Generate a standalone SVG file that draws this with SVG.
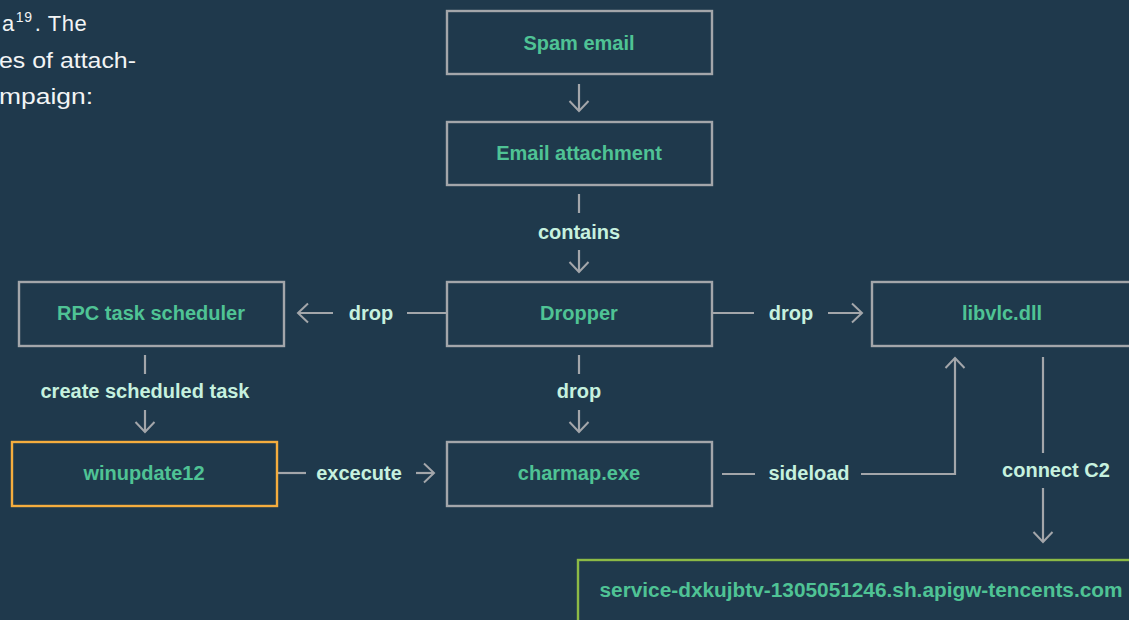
<svg xmlns="http://www.w3.org/2000/svg" width="1129" height="620" viewBox="0 0 1129 620">
  <defs>
    <marker id="arr" markerUnits="userSpaceOnUse" markerWidth="24" markerHeight="24" viewBox="-12 -12 24 24" refX="0" refY="0" orient="auto">
      <path d="M-10,-9.5 L0,0 L-10,9.5" fill="none" stroke="#a3a6aa" stroke-width="2"/>
    </marker>
  </defs>
  <style>
    .box { fill: none; stroke: #a3a6aa; stroke-width: 2.4; }
    .node { font-family: "Liberation Sans", Arial, sans-serif; font-weight: 700; font-size: 20px; fill: #4fc395; text-anchor: middle; dominant-baseline: central; }
    .lbl { font-family: "Liberation Sans", Arial, sans-serif; font-weight: 700; font-size: 20px; fill: #c6f1df; text-anchor: middle; dominant-baseline: central; }
    .ln { fill: none; stroke: #a3a6aa; stroke-width: 2.2; }
    .arr { marker-end: url(#arr); }
    .body { font-family: "Liberation Sans", Arial, sans-serif; font-size: 22px; fill: #f2f4f5; }
  </style>
  <rect width="1129" height="620" fill="#1f394c"/>

  <g id="intro-text">
    <text class="body" x="2" y="31" letter-spacing="0.6">a<tspan font-size="14" dy="-9" dx="1">19</tspan><tspan dy="9" dx="2">. The</tspan></text>
    <text class="body" x="-1" y="68" textLength="137" lengthAdjust="spacingAndGlyphs">es of attach-</text>
    <text class="body" x="-1" y="104" textLength="94" lengthAdjust="spacingAndGlyphs">mpaign:</text>
  </g>

  <g id="connectors">
    <line class="ln arr" x1="579" y1="84" x2="579" y2="111"/>
    <line class="ln" x1="579" y1="194" x2="579" y2="213"/>
    <text class="lbl" x="579" y="232">contains</text>
    <line class="ln arr" x1="579" y1="250" x2="579" y2="272"/>

    <line class="ln" x1="407" y1="313" x2="447" y2="313"/>
    <text class="lbl" x="371" y="313">drop</text>
    <line class="ln arr" x1="333" y1="313" x2="298" y2="313"/>

    <line class="ln" x1="712" y1="313" x2="754" y2="313"/>
    <text class="lbl" x="791" y="313">drop</text>
    <line class="ln arr" x1="828" y1="313" x2="862" y2="313"/>

    <line class="ln" x1="579" y1="355" x2="579" y2="374"/>
    <text class="lbl" x="579" y="391">drop</text>
    <line class="ln arr" x1="579" y1="410" x2="579" y2="432"/>

    <line class="ln" x1="145" y1="355" x2="145" y2="374"/>
    <text class="lbl" x="145" y="391">create scheduled task</text>
    <line class="ln arr" x1="145" y1="410" x2="145" y2="432"/>

    <line class="ln" x1="277" y1="473" x2="306" y2="473"/>
    <text class="lbl" x="359" y="473">excecute</text>
    <line class="ln arr" x1="416" y1="473" x2="434" y2="473"/>

    <line class="ln" x1="722" y1="474" x2="755" y2="474"/>
    <text class="lbl" x="809" y="473">sideload</text>
    <polyline class="ln arr" points="861,474 955,474 955,358"/>

    <line class="ln" x1="1043" y1="357" x2="1043" y2="453"/>
    <text class="lbl" x="1056" y="470">connect C2</text>
    <line class="ln arr" x1="1043" y1="488" x2="1043" y2="542"/>
  </g>

  <g id="spam-email">
    <rect class="box" x="447" y="11" width="265" height="63"/>
    <text class="node" x="579" y="43">Spam email</text>
  </g>
  <g id="email-attachment">
    <rect class="box" x="447" y="122" width="265" height="63"/>
    <text class="node" x="579" y="153">Email attachment</text>
  </g>
  <g id="dropper">
    <rect class="box" x="447" y="282" width="265" height="64"/>
    <text class="node" x="579" y="313">Dropper</text>
  </g>
  <g id="rpc-task-scheduler">
    <rect class="box" x="19" y="282" width="265" height="64"/>
    <text class="node" x="151" y="313">RPC task scheduler</text>
  </g>
  <g id="libvlc-dll">
    <rect class="box" x="872" y="282" width="265" height="64"/>
    <text class="node" x="1002" y="313">libvlc.dll</text>
  </g>
  <g id="winupdate12">
    <rect class="box" x="12" y="442" width="265" height="64" style="stroke:#f5ad3e"/>
    <text class="node" x="144" y="473">winupdate12</text>
  </g>
  <g id="charmap-exe">
    <rect class="box" x="447" y="442" width="265" height="64"/>
    <text class="node" x="579" y="473">charmap.exe</text>
  </g>
  <g id="c2-server">
    <rect class="box" x="578" y="560" width="570" height="64" style="stroke:#8cba46"/>
    <text class="node" x="861" y="590" textLength="523" lengthAdjust="spacingAndGlyphs">service-dxkujbtv-1305051246.sh.apigw-tencents.com</text>
  </g>
</svg>
